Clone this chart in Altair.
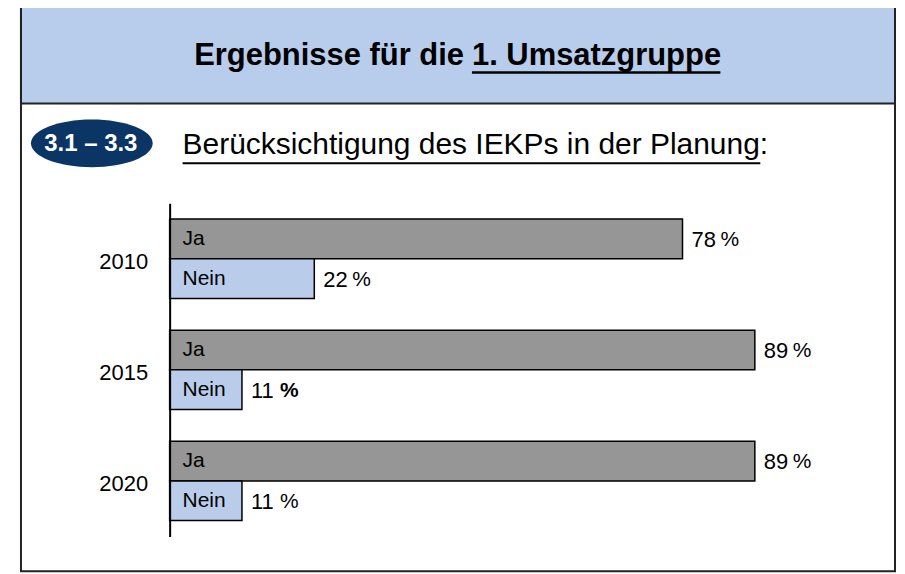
import altair as alt
import pandas as pd

# ---- data ----
years = ["2010", "2015", "2020"]
answers = ["Ja", "Nein"]
ja_values = [78, 89, 89]
nein_values = [22, 11, 11]

rows = []
for i, yr in enumerate(years):
    rows.append({"year": yr, "answer": "Ja", "value": ja_values[i]})
    rows.append({"year": yr, "answer": "Nein", "value": nein_values[i]})
df = pd.DataFrame(rows)

FONT = "Liberation Sans, Arial, sans-serif"
one = pd.DataFrame({"k": [0]})

y_enc = alt.Y("year:N", sort=years, title=None,
              scale=alt.Scale(paddingInner=0.286, paddingOuter=0.143),
              axis=alt.Axis(domain=True, domainColor="black", domainWidth=2,
                            ticks=False, labelFontSize=22, labelFont=FONT,
                            labelColor="black", labelPadding=22, grid=False,
                            labelOffset=3, zindex=2))
yoff = alt.YOffset("answer:N", sort=answers,
                   scale=alt.Scale(paddingInner=0, paddingOuter=0))
x_scale = alt.Scale(domain=[0, 100], nice=False, zero=True)

base = alt.Chart(df).encode(y=y_enc, yOffset=yoff)

bars = base.mark_bar(stroke="black", strokeWidth=1.5).encode(
    x=alt.X("value:Q", scale=x_scale, axis=None),
    color=alt.Color("answer:N", sort=answers,
                    scale=alt.Scale(domain=answers, range=["#969696", "#B9CDEA"]),
                    legend=None),
)

inner = base.mark_text(align="left", baseline="middle", dx=13, fontSize=21,
                       font=FONT, color="black").encode(
    x=alt.datum(0, scale=x_scale), text="answer:N")

nums = base.mark_text(align="left", baseline="middle", dx=9, dy=1, fontSize=22,
                      font=FONT, color="black").encode(
    x=alt.X("value:Q", scale=x_scale), text=alt.Text("value:Q", format="d"))

bold_cond = "datum.year == '2015' && datum.answer == 'Nein'"
pct = base.mark_text(align="left", baseline="middle", dx=38, dy=1, fontSize=21,
                     font=FONT, color="black").encode(
    x=alt.X("value:Q", scale=x_scale), text=alt.value("%")
).transform_filter("!(" + bold_cond + ")")
pct_bold = base.mark_text(align="left", baseline="middle", dx=38, dy=1, fontSize=21,
                          font=FONT, fontWeight="bold", color="black").encode(
    x=alt.X("value:Q", scale=x_scale), text=alt.value("%")
).transform_filter(bold_cond)

# ---- decorations (frame, header, badge, titles) ----
frame = alt.Chart(one).mark_rect(fillOpacity=0, stroke="#222", strokeWidth=2).encode(
    x=alt.value(-149), x2=alt.value(727), y=alt.value(-198), y2=alt.value(369))
header = alt.Chart(one).mark_rect(fill="#B8CDEC", stroke="#222", strokeWidth=2).encode(
    x=alt.value(-149), x2=alt.value(727), y=alt.value(-198), y2=alt.value(-100))

title1 = alt.Chart(one).mark_text(align="right", baseline="middle", fontSize=31,
                                  fontWeight="bold", font=FONT, color="black").encode(
    x=alt.value(295), y=alt.value(-148), text=alt.value("Ergebnisse für die"))
title2 = alt.Chart(one).mark_text(align="left", baseline="middle", fontSize=31,
                                  fontWeight="bold", font=FONT, color="black").encode(
    x=alt.value(303), y=alt.value(-148), text=alt.value("1. Umsatzgruppe"))
title_ul = alt.Chart(one).mark_rule(color="black", strokeWidth=2.5).encode(
    x=alt.value(303), x2=alt.value(552), y=alt.value(-131))

badge = alt.Chart(one).mark_point(
    shape="M-1,0A1,0.393 0 1,0 1,0A1,0.393 0 1,0 -1,0Z",
    filled=True, fill="#0B3564", opacity=1, size=14884, strokeWidth=0).encode(
    x=alt.value(-78), y=alt.value(-60))
badge_txt = alt.Chart(one).mark_text(align="center", baseline="middle", fontSize=24,
                                     fontWeight="bold", font=FONT, color="white").encode(
    x=alt.value(-79), y=alt.value(-59), text=alt.value("3.1 – 3.3"))

subtitle = alt.Chart(one).mark_text(align="left", baseline="middle", fontSize=30,
                                    font=FONT, color="black").encode(
    x=alt.value(13), y=alt.value(-58), text=alt.value("Berücksichtigung des IEKPs in der Planung:"))
sub_ul = alt.Chart(one).mark_rule(color="black", strokeWidth=2).encode(
    x=alt.value(13), x2=alt.value(592), y=alt.value(-40))

chart = alt.layer(
    header, frame, title1, title2, title_ul, badge, badge_txt, subtitle, sub_ul,
    bars, inner, nums, pct, pct_bold,
).properties(
    width=659, height=334,
    autosize=alt.AutoSizeParams(type="none"),
    padding={"left": 162, "top": 195, "right": 70, "bottom": 37},
    background="white",
).configure_view(stroke=None)

chart.save("out.html", embed_options={"renderer": "svg", "actions": False})
